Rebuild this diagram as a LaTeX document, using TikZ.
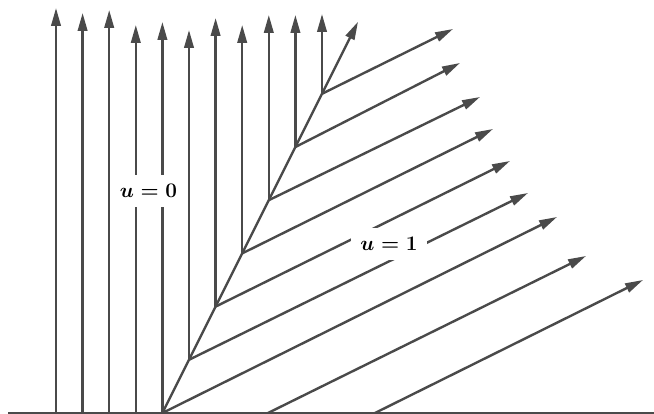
\documentclass[tikz,border=0pt]{standalone}
\usetikzlibrary{arrows.meta}
\definecolor{ink}{HTML}{4A4A4A}
\begin{document}
\begin{tikzpicture}[x=1pt,y=-1pt,
  charline/.style={draw=ink, line width=2.4pt, -{Triangle[length=18pt,width=9.5pt]}},
  baseline/.style={draw=ink, line width=1.4pt},
  lbl/.style={fill=white, inner sep=9pt, font=\huge\boldmath}]
\useasboundingbox (0,0) rectangle (654,414);
% axis
\coordinate (L) at (8,413);
\coordinate (R) at (654,413);
% origin and feet on the axis
\coordinate (O) at (162.4,413);
\coordinate (b0) at (56,413);
\coordinate (b1) at (82.6,413);
\coordinate (b2) at (109.2,413);
\coordinate (b3) at (135.8,413);
\coordinate (p1) at (268,413);
\coordinate (p2) at (375,413);
% shock points
\coordinate (s1) at (189,359.8);
\coordinate (s2) at (215.6,306.6);
\coordinate (s3) at (242.2,253.4);
\coordinate (s4) at (268.8,200.2);
\coordinate (s5) at (295.4,147);
\coordinate (s6) at (322,93.8);
\coordinate (st) at (358,21.8);
% vertical tips
\coordinate (t0) at (56,8);
\coordinate (t1) at (82.6,13);
\coordinate (t2) at (109.2,10);
\coordinate (t3) at (135.8,25);
\coordinate (t4) at (162.4,22);
\coordinate (t5) at (189,30);
\coordinate (t6) at (215.6,18);
\coordinate (t7) at (242.2,25);
\coordinate (t8) at (268.8,15);
\coordinate (t9) at (295.4,15);
\coordinate (t10) at (322,14);
% diagonal tips
\coordinate (d1) at (528,193);
\coordinate (d2) at (510,161);
\coordinate (d3) at (493,129);
\coordinate (d4) at (480,97);
\coordinate (d5) at (460,63);
\coordinate (d6) at (453,29);
\coordinate (d0) at (557,217);
\coordinate (e1) at (586,256);
\coordinate (e2) at (643,280);

\draw[baseline] (L) -- (R);
% u = 0 characteristics
\draw[charline] (b0) -- (t0);
\draw[charline] (b1) -- (t1);
\draw[charline] (b2) -- (t2);
\draw[charline] (b3) -- (t3);
\draw[charline] (O) -- (t4);
\draw[charline] (s1) -- (t5);
\draw[charline] (s2) -- (t6);
\draw[charline] (s3) -- (t7);
\draw[charline] (s4) -- (t8);
\draw[charline] (s5) -- (t9);
\draw[charline] (s6) -- (t10);
% u = 1 characteristics
\draw[charline] (O) -- (d0);
\draw[charline] (s1) -- (d1);
\draw[charline] (s2) -- (d2);
\draw[charline] (s3) -- (d3);
\draw[charline] (s4) -- (d4);
\draw[charline] (s5) -- (d5);
\draw[charline] (s6) -- (d6);
\draw[charline] (p1) -- (e1);
\draw[charline] (p2) -- (e2);
% shock
\draw[charline] (O) -- (st);
% labels
\node[lbl] (u0) at (148.5,191) {$u=0$};
\node[lbl] (u1) at (389,244) {$u=1$};
\end{tikzpicture}
\end{document}
